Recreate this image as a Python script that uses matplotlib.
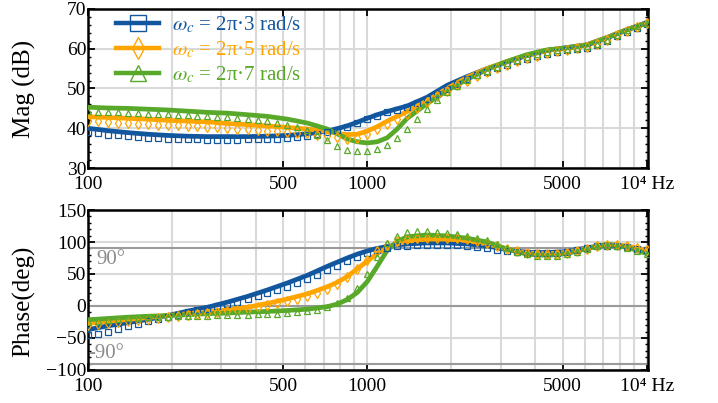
import matplotlib
matplotlib.use('Agg')
import matplotlib.pyplot as plt
from matplotlib.lines import Line2D
from matplotlib.ticker import FixedLocator, LogLocator, NullFormatter, MultipleLocator

plt.rcParams['font.family'] = ['Liberation Serif', 'DejaVu Serif']
plt.rcParams['mathtext.fontset'] = 'stix'

# --- data ---
# frequencies of the measured points (Hz)
f_meas = [100, 109, 118, 128, 139, 151, 164, 178, 193, 210, 228, 247, 268, 291,
          316, 343, 373, 405, 439, 477, 518, 562, 611, 663, 720, 781, 848, 921,
          1000, 1086, 1179, 1280, 1390, 1509, 1638, 1778, 1931, 2096, 2276, 2471,
          2683, 2913, 3162, 3433, 3728, 4048, 4394, 4771, 5180, 5624, 6106, 6630,
          7197, 7814, 8484, 9211, 10000]

# frequencies of the model curves (Hz)
f_model = [100, 118, 139, 164, 193, 228, 268, 316, 373, 439, 518, 611, 720, 781,
           848, 921, 1000, 1086, 1179, 1280, 1390, 1638, 1931, 2276, 2683, 3162,
           3728, 4394, 5180, 6106, 7197, 8484, 10000]

labels = [r'$\omega_c$ = 2π·3 rad/s', r'$\omega_c$ = 2π·5 rad/s', r'$\omega_c$ = 2π·7 rad/s']

# magnitude, model (dB)
mag_model_3 = [40.0, 39.4, 38.9, 38.5, 38.2, 38.0, 37.9, 37.9, 37.9, 38.0, 38.2, 38.6,
               39.3, 39.9, 40.6, 41.5, 42.5, 43.4, 44.2, 44.9, 45.6, 47.8, 50.8, 53.0,
               55.0, 56.7, 58.3, 59.6, 60.3, 61.0, 62.8, 64.8, 66.6]
mag_model_5 = [42.9, 42.7, 42.5, 42.3, 42.0, 41.8, 41.6, 41.2, 40.9, 40.6, 40.2, 39.8,
               39.2, 38.7, 38.4, 38.5, 39.3, 40.4, 41.8, 43.0, 44.2, 46.9, 50.0, 52.8,
               55.0, 56.8, 58.4, 59.6, 60.2, 61.0, 62.8, 64.8, 66.5]
mag_model_7 = [45.3, 45.1, 45.0, 44.8, 44.6, 44.3, 44.0, 43.8, 43.4, 43.0, 42.3, 41.3,
               39.8, 38.6, 37.3, 36.6, 36.3, 36.6, 37.6, 39.8, 42.5, 46.2, 49.5, 52.3,
               54.8, 56.8, 58.5, 59.7, 60.2, 60.9, 62.7, 64.7, 66.4]

# magnitude, measured (dB)
mag_meas_3 = [39.0, 38.7, 38.4, 38.2, 38.0, 37.8, 37.6, 37.5, 37.4, 37.3, 37.2, 37.2,
              37.1, 37.1, 37.1, 37.1, 37.2, 37.2, 37.3, 37.4, 37.6, 37.8, 38.1, 38.5,
              39.0, 39.6, 40.4, 41.3, 42.3, 43.2, 44.0, 44.7, 45.4, 46.3, 47.4, 48.6,
              49.9, 51.2, 52.3, 53.3, 54.2, 55.1, 56.0, 56.8, 57.5, 58.1, 58.7, 59.2,
              59.6, 59.9, 60.3, 61.0, 62.0, 63.2, 64.3, 65.3, 66.3]
mag_meas_5 = [41.8, 41.7, 41.5, 41.4, 41.3, 41.1, 41.0, 40.9, 40.8, 40.7, 40.6, 40.5,
              40.4, 40.2, 40.1, 39.9, 39.8, 39.6, 39.4, 39.3, 39.1, 38.9, 38.7, 38.4,
              38.1, 37.7, 37.4, 37.6, 38.5, 39.7, 41.0, 42.3, 43.6, 45.0, 46.5, 48.0,
              49.4, 50.8, 52.0, 53.1, 54.1, 55.1, 56.0, 56.8, 57.6, 58.3, 58.9, 59.4,
              59.8, 60.1, 60.5, 61.2, 62.2, 63.4, 64.5, 65.5, 66.4]
mag_meas_7 = [44.3, 44.2, 44.1, 44.0, 43.9, 43.8, 43.7, 43.6, 43.5, 43.4, 43.3, 43.2,
              43.0, 42.9, 42.8, 42.6, 42.4, 42.1, 41.8, 41.4, 40.9, 40.3, 39.5, 38.4,
              37.0, 35.6, 34.6, 34.2, 34.3, 34.8, 35.9, 37.6, 39.8, 42.3, 44.8, 47.0,
              49.0, 50.7, 52.1, 53.3, 54.4, 55.4, 56.3, 57.2, 58.0, 58.7, 59.3, 59.7,
              60.0, 60.2, 60.6, 61.3, 62.3, 63.5, 64.6, 65.6, 66.5]

# phase, model (deg)
ph_model_3 = [-37, -31, -26, -21, -15, -8, -2, 6, 15, 25, 36, 48, 62, 68.5, 75, 81, 86,
              90, 93, 95.5, 97, 98.5, 98.5, 97, 94, 88, 84, 83.5, 85, 91, 95, 93, 87]
ph_model_5 = [-27, -24, -21, -18, -15, -12, -9, -6, -2, 4, 11, 19, 30, 37, 46, 58, 70,
              82, 91, 97, 101, 104.5, 104.5, 102, 97, 89, 83, 81.5, 84, 90.5, 96.5, 94, 87]
ph_model_7 = [-21.5, -19.5, -17.5, -16, -15, -13.5, -12, -11, -9.5, -8.5, -7, -5, -1, 3,
              10, 21, 38, 62, 87, 101, 108, 111, 109.5, 106, 100, 89, 81, 79, 82, 89.5,
              96.5, 92, 82]

# phase, measured (deg)
ph_meas_3 = [-46, -43, -40, -36, -32, -28, -24, -21, -17, -14, -10, -7, -4, 0, 3, 7, 11,
             15, 20, 25, 30, 36, 42, 49, 56, 63, 70, 77, 83, 88, 91, 93, 94, 95, 95.5,
             95.5, 95.5, 95, 94, 92.5, 90.5, 88, 85.5, 84, 83, 82.5, 82.5, 83, 84.5, 87,
             90, 93, 94.5, 94, 92, 89.5, 87]
ph_meas_5 = [-30, -28, -26.5, -25, -23, -21.5, -20, -18.5, -17, -15.5, -14, -12.5, -11,
             -9.5, -8, -6, -4, -1.5, 1, 4, 7.5, 11.5, 16, 21, 27, 35, 45, 58, 72, 86, 96,
             102, 105, 106.5, 107, 107, 106.5, 105.5, 104, 101.5, 98, 94, 89.5, 85.5,
             82.5, 81, 80.5, 81, 82.5, 85.5, 89.5, 93.5, 96, 95.5, 93, 90, 87]
ph_meas_7 = [-25, -23, -21.5, -20, -19, -18, -17.5, -17, -16.5, -16, -15.5, -15, -15,
             -14.5, -14, -14, -13.5, -13, -12.5, -12, -11, -10, -8.5, -6, -2, 4, 13, 28,
             50, 76, 98, 110, 115, 116.5, 116.5, 116, 114.5, 112.5, 110, 107, 102.5, 97,
             91, 85, 80.5, 78, 77.5, 78.5, 80.5, 84, 88.5, 93, 95.5, 94, 90.5, 86, 82]

xticks = [100, 500, 1000, 5000, 10000]
xticklabels = ['100', '500', '1000', '5000', '10⁴ Hz']

cores = ['#12569E', '#FFA500', '#58A82A']
marcadores = ['s', 'd', '^']
grid_cor = '#d9d9d9'


def estilo_eixo(ax):
    ax.set_xscale('log')
    ax.set_xlim(100, 1.008e4)
    ax.xaxis.set_major_locator(FixedLocator(xticks))
    ax.set_xticklabels(xticklabels)
    ax.xaxis.set_minor_locator(LogLocator(base=10, subs=range(2, 10)))
    ax.xaxis.set_minor_formatter(NullFormatter())
    ax.tick_params(which='both', direction='in', top=True, right=True, labelsize=14)
    ax.tick_params(axis='x', which='minor', length=0)
    ax.tick_params(axis='x', which='major', length=5, width=1.3, pad=6)
    ax.tick_params(axis='y', which='major', length=5, width=1.3, pad=1)
    ax.tick_params(axis='y', which='minor', length=2.5, width=1.0)
    ax.grid(True, axis='x', which='both', color=grid_cor, lw=1.5)
    ax.grid(True, axis='y', which='major', color=grid_cor, lw=1.5)
    ax.set_axisbelow(True)
    for s in ax.spines.values():
        s.set_linewidth(1.8)


fig = plt.figure(figsize=(7.18, 4.03), dpi=100)
ax1 = fig.add_axes([0.1222, 0.5831, 0.7798, 0.3946])
ax2 = fig.add_axes([0.1222, 0.0819, 0.7798, 0.397])

# --- magnitude ---
mag_model = [mag_model_3, mag_model_5, mag_model_7]
mag_meas = [mag_meas_3, mag_meas_5, mag_meas_7]
for i in range(3):
    ax1.plot(f_model, mag_model[i], color=cores[i], lw=3.4, zorder=3)
    ax1.plot(f_meas, mag_meas[i], ls='none', marker=marcadores[i], ms=5, mfc='none',
             mec=cores[i], mew=0.9, zorder=4)
estilo_eixo(ax1)
ax1.set_ylim(30, 70)
ax1.yaxis.set_major_locator(MultipleLocator(10))
ax1.yaxis.set_minor_locator(MultipleLocator(2))
ax1.set_ylabel('Mag (dB)', fontsize=18)
ax1.yaxis.set_label_coords(-0.093, 0.5)

handles = [Line2D([], [], color=cores[i], lw=3.2, marker=marcadores[i], ms=11,
                  mfc='none', mec=cores[i], mew=1.0) for i in range(3)]
leg = ax1.legend(handles, labels, loc='upper left', bbox_to_anchor=(0.035, 1.015),
                 frameon=False, fontsize=15, handlelength=2.1, handletextpad=0.6,
                 labelspacing=0.2, borderaxespad=0.0)
for txt, c in zip(leg.get_texts(), cores):
    txt.set_color(c)

# --- phase ---
ph_model = [ph_model_3, ph_model_5, ph_model_7]
ph_meas = [ph_meas_3, ph_meas_5, ph_meas_7]
for y in (90, 0, -90):
    ax2.axhline(y, color='#9a9a9a', lw=1.5, zorder=1)
for i in range(3):
    ax2.plot(f_model, ph_model[i], color=cores[i], lw=3.4, zorder=3)
    ax2.plot(f_meas, ph_meas[i], ls='none', marker=marcadores[i], ms=5, mfc='none',
             mec=cores[i], mew=0.9, zorder=4)
estilo_eixo(ax2)
ax2.set_ylim(-100, 150)
ax2.yaxis.set_major_locator(MultipleLocator(50))
ax2.yaxis.set_minor_locator(MultipleLocator(10))
ax2.set_ylabel('Phase(deg)', fontsize=18)
ax2.yaxis.set_label_coords(-0.093, 0.43)
ax2.text(107, 87, '90°', color='#8c8c8c', fontsize=15, va='top', ha='left')
ax2.text(100.5, -89, '-90°', color='#8c8c8c', fontsize=15, va='bottom', ha='left')

plt.savefig('out.png', dpi=100)
plt.close()
